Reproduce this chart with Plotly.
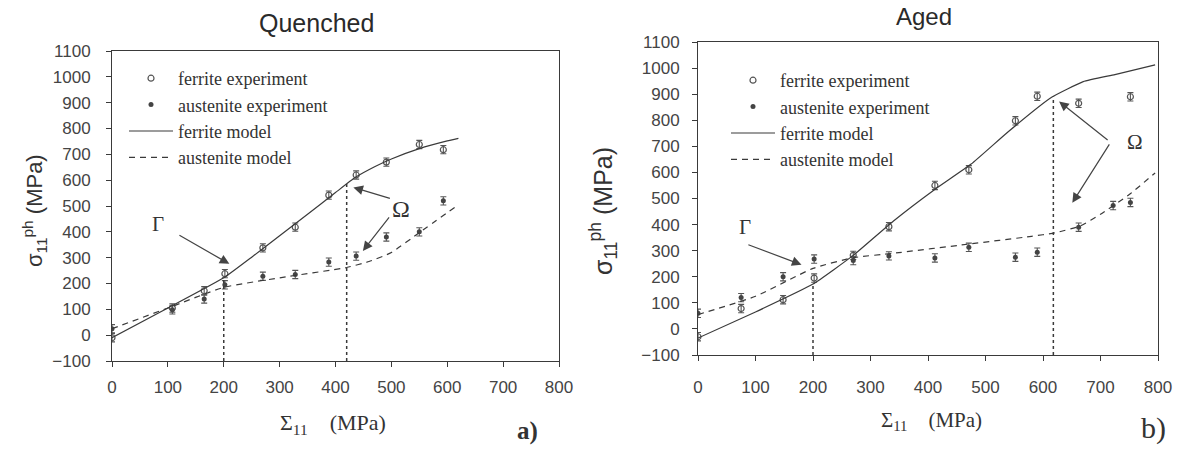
import numpy as np
import plotly.graph_objects as go

# ---------------- data : Quenched (a) ----------------
q_fer_exp_x = [0, 108, 165, 202, 270, 328, 388, 437, 491, 550, 593]
q_fer_exp_y = [-10, 105, 172, 238, 338, 418, 542, 620, 670, 738, 718]
q_aus_exp_x = [0, 108, 165, 202, 270, 328, 388, 437, 491, 550, 593]
q_aus_exp_y = [25, 98, 140, 195, 228, 235, 283, 306, 380, 400, 520]
q_fer_mod_x = [0, 100, 200, 250, 300, 350, 400, 435, 470, 500, 550, 600, 620]
q_fer_mod_y = [-10, 105, 222, 302, 385, 468, 552, 610, 652, 682, 722, 752, 762]
q_aus_mod_x = [0, 100, 200, 300, 420, 460, 500, 550, 620]
q_aus_mod_y = [25, 105, 185, 222, 262, 285, 320, 397, 505]
q_gamma_x = 200
q_omega_x = 420

# ---------------- data : Aged (b) ----------------
a_fer_exp_x = [0, 75, 148, 202, 270, 332, 412, 471, 552, 590, 662, 752]
a_fer_exp_y = [-30, 78, 112, 195, 282, 392, 550, 610, 798, 892, 865, 890]
a_aus_exp_x = [0, 75, 148, 202, 270, 332, 412, 471, 552, 590, 662, 722, 752]
a_aus_exp_y = [60, 120, 200, 268, 262, 280, 272, 313, 275, 294, 390, 473, 485]
a_fer_mod_x = [0, 100, 200, 270, 340, 410, 475, 540, 615, 670, 725, 795]
a_fer_mod_y = [-35, 65, 172, 282, 414, 532, 632, 757, 888, 948, 975, 1012]
a_aus_mod_x = [0, 100, 200, 270, 340, 470, 580, 620, 665, 700, 750, 795]
a_aus_mod_y = [55, 125, 232, 273, 290, 325, 355, 368, 395, 440, 515, 598]
a_gamma_x = 200
a_omega_x = 618

y_ticks = list(range(-100, 1101, 100))
x_ticks = list(range(0, 801, 100))

# annotation anchors (data coords): label, arrow tail, arrow head
q_gamma_lbl = (82, 432)
q_gamma_arr = [((118, 390), (210, 276))]
q_omega_lbl = (518, 488)
q_omega_arr = [((500, 528), (432, 572)), ((498, 462), (449, 326))]
a_gamma_lbl = (82, 392)
a_gamma_arr = [((85, 325), (180, 246))]
a_omega_lbl = (760, 715)
a_omega_arr = [((715, 720), (628, 872)), ((717, 713), (651, 484))]

INK = "#3a3a3a"
W, H = 1186, 449

fig = go.Figure()
err = dict(type="constant", value=16, width=3, thickness=1.1, color="#555")


def add_panel(xa, ya, leg, fx, fy, ax_, ay_, fmx, fmy, amx, amy, gx, ox):
    fig.add_trace(go.Scatter(x=fx, y=fy, mode="markers", name="ferrite experiment",
                             xaxis=xa, yaxis=ya, legend=leg, legendgroup=leg + "a",
                             marker=dict(symbol="circle-open", size=6, color="#555",
                                         line=dict(width=1.2)),
                             error_y=err))
    fig.add_trace(go.Scatter(x=ax_, y=ay_, mode="markers", name="austenite experiment",
                             xaxis=xa, yaxis=ya, legend=leg, legendgroup=leg + "b",
                             marker=dict(symbol="circle", size=5, color="#444"),
                             error_y=err))
    fig.add_trace(go.Scatter(x=fmx, y=fmy, mode="lines", name="ferrite model",
                             xaxis=xa, yaxis=ya, legend=leg, legendgroup=leg + "c",
                             line=dict(color=INK, width=1.2, shape="spline", smoothing=0.4)))
    fig.add_trace(go.Scatter(x=amx, y=amy, mode="lines", name="austenite model",
                             xaxis=xa, yaxis=ya, legend=leg, legendgroup=leg + "d",
                             line=dict(color=INK, width=1.2, dash="6px,5px",
                                       shape="spline", smoothing=0.5)))
    # dotted guide lines: from -100 up to the ferrite model at the given abscissa
    for gxv in (gx, ox):
        top = float(np.interp(gxv, fmx, fmy))
        fig.add_trace(go.Scatter(x=[gxv, gxv], y=[-100, top], mode="lines",
                                 xaxis=xa, yaxis=ya, showlegend=False,
                                 line=dict(color=INK, width=1.5, dash="dot")))


add_panel("x", "y", "legend", q_fer_exp_x, q_fer_exp_y, q_aus_exp_x, q_aus_exp_y,
          q_fer_mod_x, q_fer_mod_y, q_aus_mod_x, q_aus_mod_y, q_gamma_x, q_omega_x)
add_panel("x2", "y2", "legend2", a_fer_exp_x, a_fer_exp_y, a_aus_exp_x, a_aus_exp_y,
          a_fer_mod_x, a_fer_mod_y, a_aus_mod_x, a_aus_mod_y, a_gamma_x, a_omega_x)

tickfont = dict(family="Liberation Sans, Arial", size=17, color="#444")


def xaxis(dom, anchor, standoff):
    return dict(domain=dom, anchor=anchor, range=[0, 800], tickvals=x_ticks,
                showline=True, mirror=True, linecolor=INK, linewidth=1,
                ticks="outside", ticklen=5, tickcolor=INK, showgrid=False,
                zeroline=False, tickfont=tickfont, ticklabelstandoff=standoff,
                automargin=False)


def yaxis(dom, anchor, standoff):
    return dict(domain=dom, anchor=anchor, range=[-100, 1100], tickvals=y_ticks,
                showline=True, mirror=True, linecolor=INK, linewidth=1,
                ticks="outside", ticklen=5, tickcolor=INK, showgrid=False,
                zeroline=False, tickfont=tickfont, ticklabelstandoff=standoff,
                automargin=False)


legfont = dict(family="Liberation Serif, Times New Roman", size=18, color="#333")
fig.update_layout(
    width=W, height=H, margin=dict(l=0, r=0, t=0, b=0),
    paper_bgcolor="white", plot_bgcolor="white",
    xaxis=xaxis([112 / W, 559 / W], "y", 6),
    yaxis=yaxis([1 - 361 / H, 1 - 51 / H], "x", 12),
    xaxis2=xaxis([698 / W, 1158 / W], "y2", 12),
    yaxis2=yaxis([1 - 355 / H, 1 - 42 / H], "x2", 9),
    legend=dict(x=124 / W, y=1 - 60 / H, xanchor="left", yanchor="top",
                bgcolor="rgba(0,0,0,0)", tracegroupgap=0, itemwidth=44, font=legfont),
    legend2=dict(x=726 / W, y=1 - 62 / H, xanchor="left", yanchor="top",
                 bgcolor="rgba(0,0,0,0)", tracegroupgap=0, itemwidth=44, font=legfont),
    showlegend=True,
)

ann = []
sans = "Liberation Sans, Arial"
serif = "Liberation Serif, Times New Roman"


def ptext(text, xp, yp, font, angle=0):
    ann.append(dict(text=text, x=xp / W, y=1 - yp / H, xref="paper", yref="paper",
                    xanchor="center", yanchor="middle", showarrow=False,
                    textangle=angle, font=font))


# panel titles
ptext("Quenched", 316, 23, dict(family=sans, size=25, color="#2a2a2a"))
ptext("Aged", 924, 16, dict(family=sans, size=24, color="#2a2a2a"))
# y titles
ptext("σ<sub>11</sub><sup>ph</sup> (MPa)", 34, 211,
      dict(family=sans, size=22, color="#333"), angle=-90)
ptext("σ<sub>11</sub><sup>ph</sup> (MPa)", 603, 211,
      dict(family=sans, size=25, color="#333"), angle=-90)
# x titles
ptext("Σ<sub>11</sub>&nbsp;&nbsp;&nbsp;&nbsp;(MPa)", 333, 424,
      dict(family=serif, size=22, color="#333"))
ptext("Σ<sub>11</sub>&nbsp;&nbsp;&nbsp;&nbsp;(MPa)", 931, 421,
      dict(family=serif, size=21, color="#333"))
# panel letters
ptext("<b>a)</b>", 527, 431, dict(family=serif, size=25, color="#333"))
ptext("b)", 1153, 428, dict(family=serif, size=30, color="#333"))


def add_marks(xr, yr, g_lbl, g_arr, o_lbl, o_arr, gsize, osize):
    ann.append(dict(text="Γ", x=g_lbl[0], y=g_lbl[1], xref=xr, yref=yr, showarrow=False,
                    xanchor="center", yanchor="middle",
                    font=dict(family=serif, size=gsize, color="#333")))
    ann.append(dict(text="Ω", x=o_lbl[0], y=o_lbl[1], xref=xr, yref=yr, showarrow=False,
                    xanchor="center", yanchor="middle",
                    font=dict(family=serif, size=osize, color="#333")))
    for (t, h) in g_arr + o_arr:
        ann.append(dict(text="", x=h[0], y=h[1], ax=t[0], ay=t[1], xref=xr, yref=yr,
                        axref=xr, ayref=yr, showarrow=True, arrowhead=2, arrowsize=1.6,
                        arrowwidth=1.2, arrowcolor="#444"))


add_marks("x", "y", q_gamma_lbl, q_gamma_arr, q_omega_lbl, q_omega_arr, 21, 24)
add_marks("x2", "y2", a_gamma_lbl, a_gamma_arr, a_omega_lbl, a_omega_arr, 21, 21)
fig.update_layout(annotations=ann)

fig.write_html("out.html")
